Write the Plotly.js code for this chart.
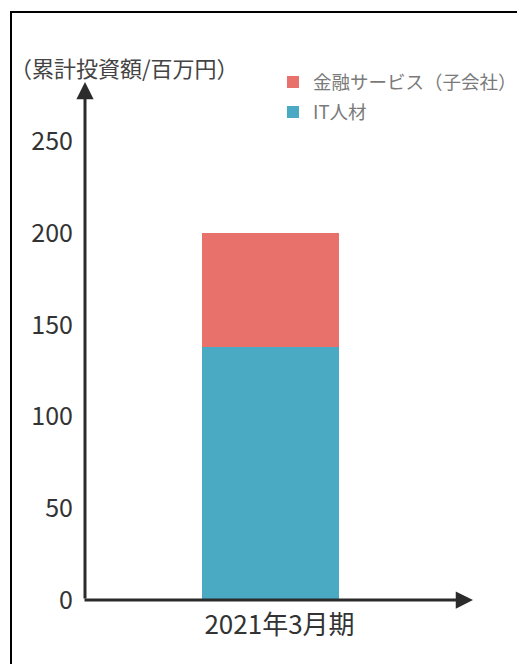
<!DOCTYPE html>
<html>
<head>
<meta charset="utf-8">
<script src="https://cdn.plot.ly/plotly-3.0.1.min.js"></script>
<style>
  html, body { margin: 0; padding: 0; background: #fff; }
  #wrap { position: relative; width: 517px; height: 664px; overflow: hidden; }
  #chart { position: absolute; left: 0; top: 0; width: 517px; height: 664px; }
  #frame {
    position: absolute; left: 10px; top: 11px; right: -10px; bottom: -10px;
    border-left: 2px solid #000; border-top: 2px solid #000;
    pointer-events: none;
  }
</style>
</head>
<body>
<div id="wrap">
  <div id="chart"></div>
  <div id="frame"></div>
</div>
<script>
// Cumulative investment (millions of yen) by fiscal period
const periods = ['2021年3月期'];
const itTalent = [138];          // IT人材
const financialSub = [62];       // 金融サービス（子会社）
const seriesNames = ['IT人材', '金融サービス（子会社）'];
const yTicks = [0, 50, 100, 150, 200, 250];
const yTitle = '（累計投資額/百万円）';

const FONT = '"Noto Sans CJK JP", "Noto Sans", sans-serif';
const AXIS = '#2b2b2b';

const traces = [
  {
    type: 'bar', name: seriesNames[0], x: periods, y: itTalent,
    width: 1, legendgroup: 'g1', legendrank: 2,
    marker: { color: '#4aaac4', line: { width: 0 } },
    hoverinfo: 'skip'
  },
  {
    type: 'bar', name: seriesNames[1], x: periods, y: financialSub,
    width: 1, legendgroup: 'g2', legendrank: 1,
    marker: { color: '#e8716b', line: { width: 0 } },
    hoverinfo: 'skip'
  }
];

const layout = {
  width: 517, height: 664,
  margin: { l: 85, r: 44, t: 82, b: 64, autoexpand: false },
  paper_bgcolor: '#fff', plot_bgcolor: '#fff',
  barmode: 'stack',
  font: { family: FONT, color: '#333' },
  xaxis: {
    type: 'category', range: [-1.354, 1.478],
    showgrid: false, zeroline: false, showline: false, ticks: '',
    tickfont: { size: 26, color: '#333' },
    ticklabelshift: 9, ticklabelstandoff: 7,
    automargin: false, fixedrange: true
  },
  yaxis: {
    range: [0, 282.3], tickvals: yTicks, ticktext: yTicks.map(String),
    showgrid: false, zeroline: false, showline: false, ticks: '',
    tickfont: { size: 25, color: '#333' },
    ticklabelstandoff: 11,
    automargin: false, fixedrange: true
  },
  legend: {
    x: 0.4845, xanchor: 'left', y: 1.036, yanchor: 'top',
    traceorder: 'grouped', tracegroupgap: 3,
    font: { size: 18.5, color: '#7a7a7a', family: FONT },
    bgcolor: 'rgba(0,0,0,0)'
  },
  annotations: [
    // vertical axis with arrowhead
    { xref: 'paper', yref: 'paper', x: 0, y: 1, ax: 0, ay: 518,
      showarrow: true, arrowhead: 2, arrowsize: 1.15, arrowwidth: 3,
      arrowcolor: AXIS, text: '', standoff: 0 },
    // horizontal axis with arrowhead
    { xref: 'paper', yref: 'paper', x: 1, y: 0, ax: -390, ay: 0,
      showarrow: true, arrowhead: 2, arrowsize: 1.15, arrowwidth: 3,
      arrowcolor: AXIS, text: '', standoff: 0 },
    // unit label
    { xref: 'paper', yref: 'paper', x: (8 - 85) / 388, y: (600 - 67) / 518,
      xanchor: 'left', yanchor: 'middle', showarrow: false,
      text: yTitle, font: { size: 22, color: '#444', family: FONT } }
  ]
};

Plotly.newPlot('chart', traces, layout, { displayModeBar: false, staticPlot: true });
</script>
</body>
</html>
